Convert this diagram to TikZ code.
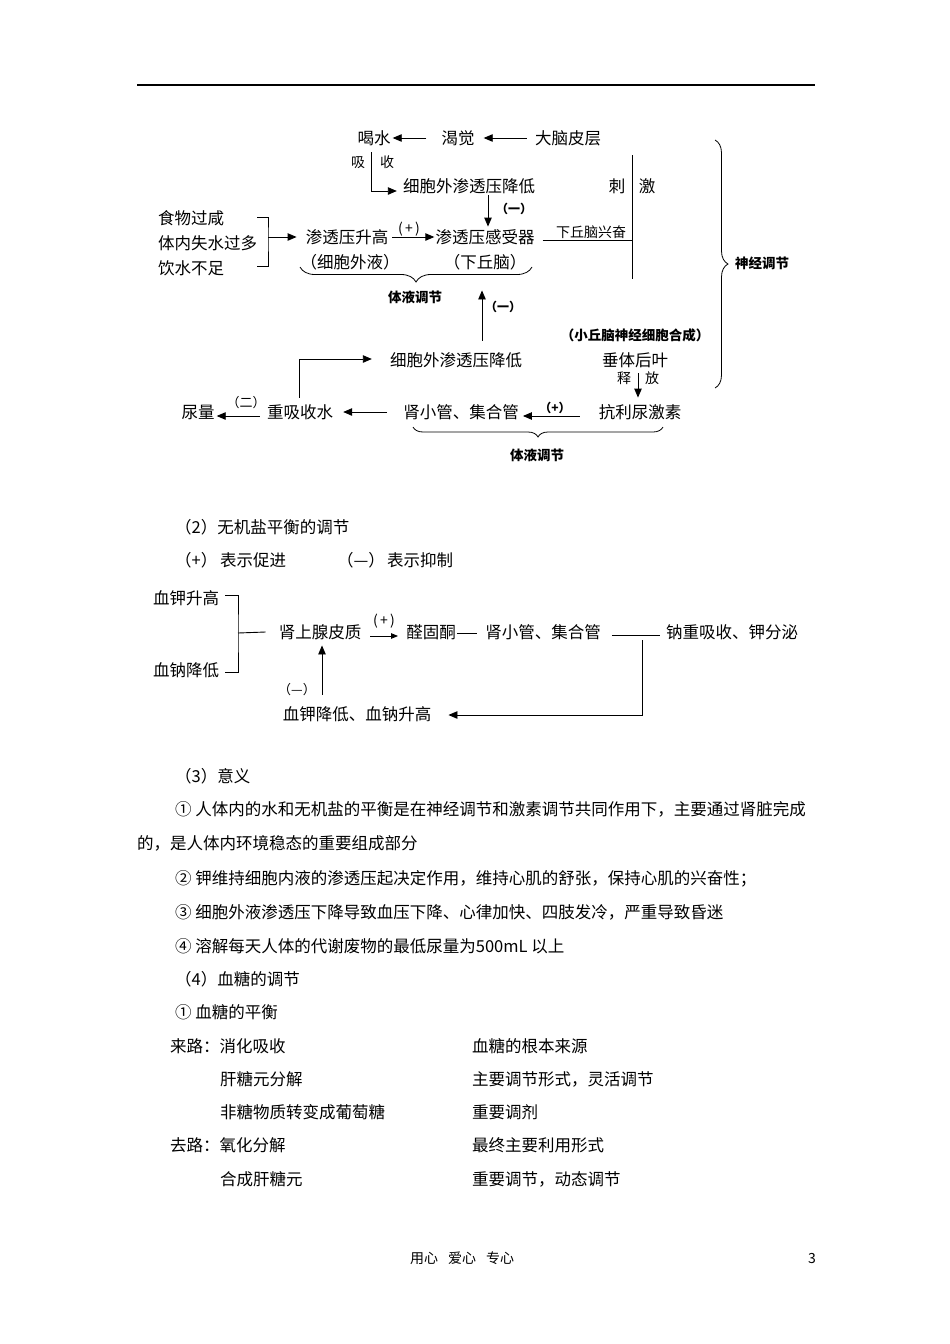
\documentclass[tikz,border=0pt]{standalone}
\usepackage{fontspec}
\setmainfont{Noto Sans CJK SC}
\usetikzlibrary{arrows.meta,decorations.pathreplacing,calc}
\begin{document}
\begin{tikzpicture}[x=1pt,y=-1pt,
  t/.style={inner sep=0pt,font=\fontsize{16.5}{18}\selectfont,text height=14.5pt,text depth=2pt},
  s14/.style={inner sep=0pt,font=\fontsize{14}{16}\selectfont,text height=12.3pt,text depth=1.7pt},
  b14/.style={s14,font=\fontsize{13.5}{16}\selectfont\bfseries},
  b12/.style={inner sep=0pt,font=\fontsize{12}{14}\selectfont\bfseries,text height=10.6pt,text depth=1.4pt},
  s13/.style={inner sep=0pt,font=\fontsize{13}{15}\selectfont,text height=11.4pt,text depth=1.6pt},
  pl/.style={s14},
  body/.style={t,anchor=west},
  ln/.style={line width=0.9pt,draw=black},
  arr/.style={ln,-{Triangle[length=9pt,width=7.5pt]}},
  arrs/.style={ln,-{Triangle[length=7pt,width=5.5pt]}},
  br/.style={ln,line width=0.8pt,decorate}
]
\useasboundingbox (0,0) rectangle (950,1344);
\fill[white] (0,0) rectangle (950,1344);
\draw[line width=1.3pt] (137,85) -- (815,85);

% ---------- diagram 1 ----------
\node[t] (hs) at (374,138) {喝水};
\node[t] (kj) at (458,138) {渴觉};
\node[t] (dn) at (568,138) {大脑皮层};
\draw[arr] ([xshift=-15pt]kj.west) -- ([xshift=2pt]hs.east);
\draw[arr] ([xshift=-8pt]dn.west) -- ([xshift=9pt]kj.east);
\node[s14] (xi) at (358,162) {吸};
\node[s14] (shou) at (387,162) {收};
\node[t] (xw1) at (469,186) {细胞外渗透压降低};
\draw[arr] ([xshift=-3pt,yshift=-6pt]hs.south) |- ([xshift=-6pt,yshift=-5pt]xw1.west);
\node[t] (sgq) at (485,237) {渗透压感受器};
\draw[arr] ([xshift=19pt,yshift=-1pt]xw1.south) -- ([xshift=3pt,yshift=2pt]sgq.north);
\node[b12] (m1) at (514,209) {（一）};
\node[t] (ss) at (347,237) {渗透压升高};
\draw[arr] ([xshift=4pt]ss.east) -- ([xshift=-1pt]sgq.west);
\node[pl] (p1) at (409,228) {(\,+\,)};
\node[t] (xwy) at (350,262) {（细胞外液）};
\node[t] (xqn) at (485,262) {（下丘脑）};
\coordinate (br1a) at (300,267);
\coordinate (br1b) at (532,267);
\draw[br,decoration={brace,mirror,amplitude=15pt}] (br1a) -- (br1b);
\node[b14] (ty1) at (415,297) {体液调节};

\node[body] (f1) at (158,218) {食物过咸};
\node[body] (f2) at (158,243) {体内失水过多};
\node[body] (f3) at (158,268) {饮水不足};
\coordinate (bm) at (268,237);
\draw[ln] ([xshift=33pt,yshift=1pt]f1.east) -| (bm) |- ([xshift=33pt,yshift=2pt]f3.east);
\draw[arr] (bm) -- ([xshift=-9pt]ss.west);

\node[s14] (xqnxf) at (591,232) {下丘脑兴奋};
\coordinate (vt) at (632,155);
\coordinate (vb) at (632,279);
\coordinate (vl) at (632,240);
\draw[ln] (vt) -- (vb);
\draw[ln] ([xshift=8pt,yshift=-3pt]sgq.east) -- (vl);
\node[t] (ci) at (617,186) {刺};
\node[t] (ji) at (647,186) {激};

\coordinate (br2a) at (715,140);
\coordinate (br2b) at (715,388);
\draw[br,decoration={brace,amplitude=13pt}] (br2a) -- (br2b);
\node[b14] (sj) at (762,263) {神经调节};

\node[t] (xw2) at (456,360) {细胞外渗透压降低};
\draw[arr] ([xshift=26pt,yshift=11pt]xw2.north) -- ([xshift=-3pt,yshift=-20pt]xqn.south);
\node[b12] (m2) at (503,307) {（一）};
\node[t] (ny) at (198,412) {尿量};
\node[t] (cxs) at (300,412) {重吸收水};
\node[t] (sxg) at (461,412) {肾小管、集合管};
\node[t] (kl) at (640,412) {抗利尿激素};
\draw[arr] ([xshift=-1pt,yshift=6pt]cxs.north) |- ([xshift=-18pt,yshift=1pt]xw2.west);
\draw[arr] ([xshift=-7pt,yshift=-4pt]cxs.west) -- ([xshift=2pt,yshift=-4pt]ny.east);
\node[s13] (m3) at (246,403) {（二）};
\draw[arr] ([xshift=-16pt]sxg.west) -- ([xshift=10pt]cxs.east);
\draw[arr] ([xshift=-19pt,yshift=-4pt]kl.west) -- ([xshift=4pt,yshift=-4pt]sxg.east);
\node[b12] (m4) at (555,408) {（+）};
\node[b12,font=\fontsize{13.5}{15}\selectfont\bfseries] (hc) at (635,336) {（小丘脑神经细胞合成）};
\node[t] (ct) at (635,360) {垂体后叶};
\node[s14] (shi) at (624,378) {释};
\node[s14] (fang) at (652,378) {放};
\draw[arr] ([xshift=3pt,yshift=-5pt]ct.south) -- ([xshift=-2pt,yshift=6pt]kl.north);
\coordinate (br3a) at (413,427);
\coordinate (br3b) at (663,427);
\draw[br,decoration={brace,mirror,amplitude=10pt}] (br3a) -- (br3b);
\node[b14] (ty2) at (537,455) {体液调节};

% ---------- diagram 2 ----------
\node[body] (a1) at (153,598) {血钾升高};
\node[body] (a2) at (153,670) {血钠降低};
\node[t] (sx) at (320,632) {肾上腺皮质};
\node[t] (qgt) at (431,632) {醛固酮};
\node[t] (sxg2) at (543,632) {肾小管、集合管};
\node[t] (nzx) at (732,632) {钠重吸收、钾分泌};
\node[t] (xjjd) at (357,714) {血钾降低、血钠升高};
\coordinate (bm2) at (238,633);
\draw[ln] ([xshift=6pt,yshift=3pt]a1.east) -| (bm2) |- ([xshift=6pt,yshift=-2pt]a2.east);
\draw[ln] (bm2) -- ([xshift=-13pt]sx.west);
\draw[arrs] ([xshift=9pt,yshift=-4pt]sx.east) -- ([xshift=-8pt,yshift=-4pt]qgt.west);
\node[pl] (p2) at (384,620) {(\,+\,)};
\draw[ln] ([xshift=1pt,yshift=-1pt]qgt.east) -- ([xshift=-8pt,yshift=-1pt]sxg2.west);
\draw[ln] ([xshift=11pt,yshift=-3pt]sxg2.east) -- ([xshift=-6pt,yshift=-3pt]nzx.west);
\coordinate (r1) at (642,640);
\draw[arr] (r1) |- ([xshift=17pt,yshift=-1pt]xjjd.east);
\draw[arr] ([xshift=-35pt,yshift=11pt]xjjd.north) -- ([xshift=2pt,yshift=-5pt]sx.south);
\node[s13] (m5) at (297,690) {（—）};

% ---------- body text ----------
\node[body] (l1) at (175,527) {（2）无机盐平衡的调节};
\node[body] (l2a) at (175,560) {（+）};
\node[body] (l2b) at (220,560) {表示促进};
\node[body] (l2c) at (337,560) {（—）};
\node[body] (l2d) at (387,560) {表示抑制};
\node[body] (l3) at (175,776) {（3）意义};
\node[body] (l4) at (175,809) {① 人体内的水和无机盐的平衡是在神经调节和激素调节共同作用下，主要通过肾脏完成};
\node[body] (l5) at (137,843) {的，是人体内环境稳态的重要组成部分};
\node[body] (l6) at (175,878) {② 钾维持细胞内液的渗透压起决定作用，维持心肌的舒张，保持心肌的兴奋性；};
\node[body] (l7) at (175,912) {③ 细胞外液渗透压下降导致血压下降、心律加快、四肢发冷，严重导致昏迷};
\node[body] (l8) at (175,946) {④ 溶解每天人体的代谢废物的最低尿量为500mL 以上};
\node[body] (l9) at (175,979) {（4）血糖的调节};
\node[body] (l10) at (175,1012) {① 血糖的平衡};
\node[body] (l11) at (170,1046) {来路：消化吸收};
\node[body] (r11) at (472,1046) {血糖的根本来源};
\node[body] (l12) at (220,1079) {肝糖元分解};
\node[body] (r12) at (472,1079) {主要调节形式，灵活调节};
\node[body] (l13) at (220,1112) {非糖物质转变成葡萄糖};
\node[body] (r13) at (472,1112) {重要调剂};
\node[body] (l14) at (170,1145) {去路：氧化分解};
\node[body] (r14) at (472,1145) {最终主要利用形式};
\node[body] (l15) at (220,1179) {合成肝糖元};
\node[body] (r15) at (472,1179) {重要调节，动态调节};
\node[s14,anchor=west] (ft) at (410,1258) {用心\hspace{10pt}爱心\hspace{10pt}专心};
\node[s14] (pg) at (812,1258) {3};
\end{tikzpicture}
\end{document}
